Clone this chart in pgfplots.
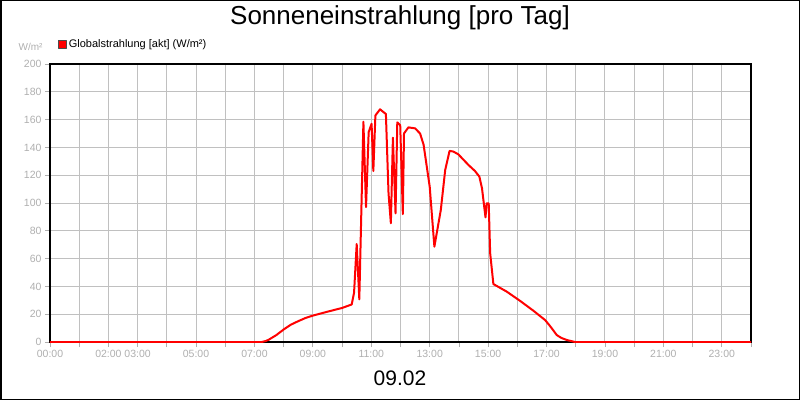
\documentclass[border=0pt]{standalone}
\usepackage{fontspec}
\setmainfont{Liberation Sans}
\usepackage{pgfplots}
\pgfplotsset{compat=1.18}
\definecolor{gridgray}{RGB}{192,192,192}
\definecolor{labgray}{RGB}{175,175,175}
\begin{document}
\begin{tikzpicture}
\useasboundingbox (0pt,0pt) rectangle (800pt,400pt);
\draw[black, line width=1.5pt] (0.75pt,0.75pt) rectangle (799.25pt,399.25pt);
% title and date
\node[font=\fontsize{26}{30}\selectfont] at (400pt,382pt) {Sonneneinstrahlung [pro Tag]};
\node[font=\fontsize{21}{24}\selectfont] at (400pt,22pt) {09.02};
\node[font=\fontsize{10}{12}\selectfont, text=labgray, anchor=east] at (46pt,353pt) {W/m²};
\begin{axis}[
  at={(50pt,58pt)}, anchor=south west,
  scale only axis, width=701pt, height=278pt,
  xmin=0, xmax=24, ymin=0, ymax=200,
  xtick={0,...,24},
  xticklabels={00:00,,02:00,03:00,,05:00,,07:00,,09:00,,11:00,,13:00,,15:00,,17:00,,19:00,,21:00,,23:00,},
  ytick={0,20,...,200},
  xtick pos=bottom, ytick pos=left,
  tick align=outside, major tick length=5pt,
  tick style={labgray, line width=0.8pt},
  grid=major, major grid style={gridgray, line width=1pt},
  axis line style={black, line width=1.3pt},
  ticklabel style={font=\fontsize{10.5}{12}\selectfont, text=labgray},
  /pgf/number format/assume math mode=true,
  legend style={at={(0.0114,1.072)}, anchor=west, draw=none, fill=none,
    inner sep=0pt, font=\fontsize{11}{12}\selectfont},
  legend cell align=left,
  legend image code/.code={\draw[fill=red, draw=black!70, line width=0.6pt] (0pt,-4pt) rectangle (8pt,4pt);},
]
\addplot[red, line width=2pt, line join=round] coordinates {
(0,0) (7.25,0) (7.4,0.8) (7.5,1.8) (7.75,5) (8,9) (8.25,12.5) (8.5,15)
(8.75,17.3) (9,19) (9.5,21.8) (10,24.5) (10.33,27) (10.41,35.5) (10.5,70.5)
(10.59,30.7) (10.73,158.5) (10.82,97) (10.91,151) (11.01,157) (11.07,123)
(11.14,163) (11.3,167.4) (11.5,164) (11.59,107) (11.67,85.4) (11.74,147)
(11.83,92.5) (11.89,158) (11.99,156) (12.08,92) (12.12,150) (12.27,154.4)
(12.5,153.7) (12.67,150) (12.79,142) (13.0,111.7) (13.16,68.6) (13.38,95)
(13.53,123.7) (13.68,137.5) (13.81,137) (13.98,135) (14.33,127.3) (14.55,123)
(14.7,119) (14.79,110.6) (14.91,89.7) (14.95,99.8) (15.02,99.8) (15.07,63.8)
(15.18,41.7) (15.64,36.2) (16.1,29.5) (16.55,22.5) (16.95,15.8) (17.1,12)
(17.18,9.8) (17.35,5) (17.5,3) (17.7,1.4) (17.98,0) (24,0)
};
\addlegendentry{Globalstrahlung [akt] (W/m²)}
\end{axis}
\end{tikzpicture}
\end{document}
